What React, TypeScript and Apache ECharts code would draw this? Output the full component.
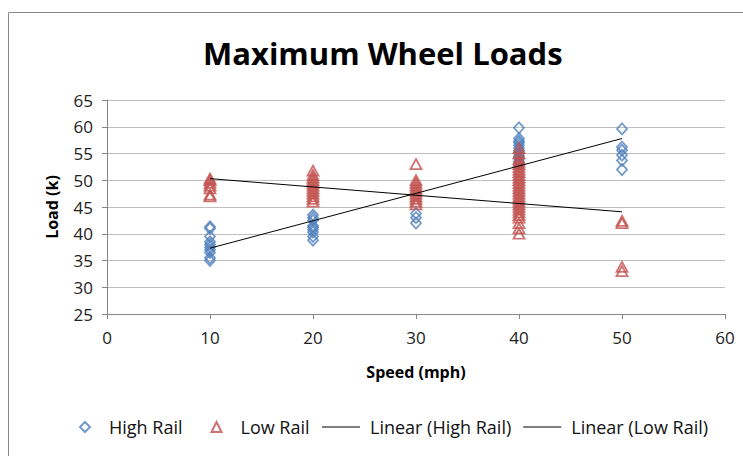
import React, { useEffect, useRef } from "react";
import * as echarts from "echarts";

const speeds = [10, 20, 30, 40, 50];
const highRailLoads = [
  [35, 35.5, 36.5, 37, 37.5, 38, 38.5, 39.5, 41, 41.3],
  [38.8, 39.5, 40.3, 40.8, 41.2, 41.5, 42.5, 43, 43.5],
  [42, 43, 43.8],
  [53, 53.5, 54, 54.5, 55, 55.5, 56, 56.5, 57, 57.3, 57.8, 59.8],
  [52, 53.7, 54.7, 55.6, 56.2, 59.6],
];
const lowRailLoads = [
  [47, 47.3, 48.5, 49, 49.5, 50, 50.3],
  [46, 46.5, 47, 47.5, 48, 48.5, 49, 49.5, 50, 50.5, 51, 51.8],
  [45.5, 46, 46.5, 47, 47.5, 48, 48.5, 49, 49.5, 50, 53],
  [40, 41, 42, 43, 43.5, 44, 44.5, 45, 45.5, 46, 46.5, 47, 47.5, 48, 48.5, 49, 49.5, 50, 50.5, 51, 51.5, 52, 52.5, 53, 53.5, 54, 55, 56],
  [42, 42.4, 33, 33.8],
];
const trendSpeeds = [10, 50];
const highTrendLoads = [37.3, 57.8];
const lowTrendLoads = [50.3, 44.1];

const seriesNames = ["High Rail", "Low Rail", "Linear (High Rail)", "Linear (Low Rail)"];
const xTicks = [0, 10, 20, 30, 40, 50, 60];
const yTicks = [25, 30, 35, 40, 45, 50, 55, 60, 65];

const BLUE = "#4F81BD";
const RED = "#C0504D";
const FONT = "'Open Sans', sans-serif";
const LINE_ICON = "path://M0 0H40V1.2H0Z";

function pairs(loads: number[][]) {
  const out: number[][] = [];
  loads.forEach((arr, i) => arr.forEach((v) => out.push([speeds[i], v])));
  return out;
}

export default function App() {
  const ref = useRef<HTMLDivElement>(null);
  useEffect(() => {
    if (!ref.current) return;
    const chart = echarts.init(ref.current, null, { renderer: "svg" });
    const legendText = { fontFamily: FONT, fontSize: 18, color: "#111" };
    chart.setOption({
      animation: false,
      backgroundColor: "#fff",
      textStyle: { fontFamily: FONT },
      graphic: [
        {
          type: "rect",
          shape: { x: 8.5, y: 12.5, width: 800, height: 500 },
          style: { fill: "none", stroke: "#8a8a8a", lineWidth: 1 },
          silent: true,
        },
      ],
      title: {
        text: "Maximum Wheel Loads",
        left: 198,
        top: 32,
        textStyle: { fontFamily: FONT, fontSize: 31, fontWeight: "bold", color: "#000" },
      },
      legend: [
        {
          top: 413,
          left: 74,
          itemWidth: 10,
          itemHeight: 10,
          itemGap: 28,
          textStyle: { ...legendText, padding: [0, 0, 0, 14] },
          data: [
            { name: seriesNames[0], icon: "diamond" },
            { name: seriesNames[1], icon: "triangle" },
          ],
        },
        {
          top: 413,
          left: 317,
          itemWidth: 38,
          itemHeight: 10,
          itemGap: 12,
          textStyle: { ...legendText, padding: [0, 0, 0, 5] },
          data: [
            { name: seriesNames[2], icon: LINE_ICON, itemStyle: { color: "#000", borderWidth: 0 } },
            { name: seriesNames[3], icon: LINE_ICON, itemStyle: { color: "#000", borderWidth: 0 } },
          ],
        },
      ],
      grid: { left: 107, right: 18, top: 100, bottom: 142 },
      xAxis: {
        type: "value",
        min: xTicks[0],
        max: xTicks[xTicks.length - 1],
        interval: 10,
        name: "Speed (mph)",
        nameLocation: "middle",
        nameGap: 50,
        nameTextStyle: { fontFamily: FONT, fontSize: 16, fontWeight: "bold", color: "#000" },
        axisLine: { lineStyle: { color: "#868686" } },
        axisTick: { show: true, length: 5, lineStyle: { color: "#868686" } },
        axisLabel: { fontFamily: FONT, fontSize: 17, color: "#222", margin: 15 },
        splitLine: { show: false },
      },
      yAxis: {
        type: "value",
        min: yTicks[0],
        max: yTicks[yTicks.length - 1],
        interval: 5,
        name: "Load (k)",
        nameLocation: "middle",
        nameGap: 47,
        nameRotate: 90,
        nameTextStyle: { fontFamily: FONT, fontSize: 16, fontWeight: "bold", color: "#000" },
        axisLine: { show: true, lineStyle: { color: "#868686" } },
        axisTick: { show: true, length: 5, lineStyle: { color: "#868686" } },
        axisLabel: { fontFamily: FONT, fontSize: 17, color: "#222", margin: 14 },
        splitLine: { show: true, lineStyle: { color: "#BFBFBF", width: 1 } },
      },
      series: [
        {
          name: seriesNames[0],
          type: "scatter",
          symbol: "diamond",
          symbolSize: [10, 11],
          data: pairs(highRailLoads),
          itemStyle: { color: "rgba(255,255,255,0)", borderColor: BLUE, borderWidth: 1.8 },
          z: 3,
        },
        {
          name: seriesNames[1],
          type: "scatter",
          symbol: "triangle",
          symbolSize: [11, 10],
          data: pairs(lowRailLoads),
          itemStyle: { color: "rgba(255,255,255,0)", borderColor: RED, borderWidth: 1.8 },
          z: 4,
        },
        {
          name: seriesNames[2],
          type: "line",
          data: trendSpeeds.map((s, i) => [s, highTrendLoads[i]]),
          showSymbol: false,
          symbol: "none",
          lineStyle: { color: "#000", width: 1 },
          itemStyle: { color: "#000" },
          z: 5,
        },
        {
          name: seriesNames[3],
          type: "line",
          data: trendSpeeds.map((s, i) => [s, lowTrendLoads[i]]),
          showSymbol: false,
          symbol: "none",
          lineStyle: { color: "#000", width: 1 },
          itemStyle: { color: "#000" },
          z: 5,
        },
      ],
    });
    return () => chart.dispose();
  }, []);
  return (
    <div
      ref={ref}
      style={{ position: "absolute", left: 0, top: 0, width: 743, height: 456, background: "#fff" }}
    />
  );
}
